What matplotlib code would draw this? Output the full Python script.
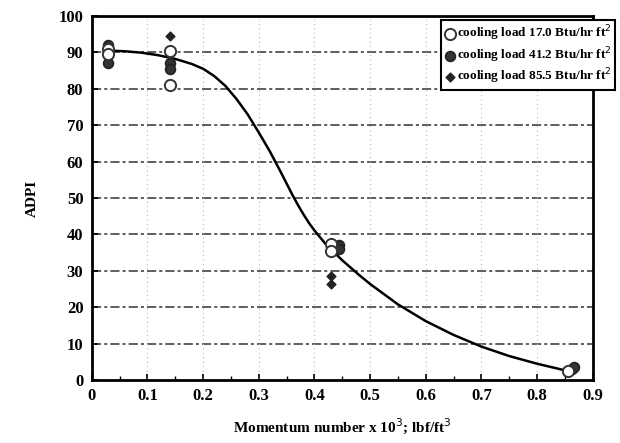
import matplotlib
matplotlib.use("Agg")
import matplotlib.pyplot as plt
import numpy as np

# cooling load 17.0 Btu/hr ft^2 (open circles)
x_17 = [0.03, 0.03, 0.14, 0.14, 0.43, 0.43, 0.855]
y_17 = [91.0, 89.5, 90.5, 81.0, 37.5, 35.5, 2.5]

# cooling load 41.2 Btu/hr ft^2 (filled circles)
x_41 = [0.03, 0.03, 0.14, 0.14, 0.445, 0.445, 0.862, 0.867]
y_41 = [92.0, 87.0, 87.0, 85.5, 37.0, 36.0, 3.0, 3.5]

# cooling load 85.5 Btu/hr ft^2 (small diamonds)
x_85 = [0.14, 0.43, 0.43]
y_85 = [94.5, 28.5, 26.5]

# fitted curve
curve_x = [0.03, 0.06, 0.09, 0.12, 0.15, 0.18, 0.20, 0.22, 0.24, 0.26, 0.28,
           0.30, 0.32, 0.34, 0.35, 0.36, 0.37, 0.38, 0.39, 0.40, 0.42, 0.45,
           0.48, 0.50, 0.55, 0.60, 0.65, 0.70, 0.75, 0.80, 0.855]
curve_y = [90.5, 90.3, 89.9, 89.2, 88.2, 86.8, 85.5, 83.5, 80.8, 77.2, 73.0,
           68.0, 62.8, 57.0, 54.0, 51.0, 48.2, 45.6, 43.2, 41.1, 37.4, 32.9,
           28.9, 26.4, 20.8, 16.2, 12.4, 9.2, 6.6, 4.5, 2.5]

xticks = [0, 0.1, 0.2, 0.3, 0.4, 0.5, 0.6, 0.7, 0.8, 0.9]
xticklabels = ["0", "0.1", "0.2", "0.3", "0.4", "0.5", "0.6", "0.7", "0.8", "0.9"]
yticks = list(range(0, 101, 10))

plt.rcParams['font.family'] = ['Liberation Serif', 'DejaVu Serif']

fig = plt.figure(figsize=(6.2, 4.43), dpi=100)
ax = fig.add_axes([0.148, 0.142, 0.808, 0.822])

# grid: dashed horizontal, faint dotted vertical
for yv in yticks[1:-1]:
    ax.axhline(yv, color='#333333', lw=1.1, ls=(0, (6, 2, 2, 2)), zorder=1)
for xv in xticks[1:-1]:
    ax.axvline(xv, color='#bbbbbb', lw=0.8, ls=(0, (1, 3)), zorder=1)

ax.plot(curve_x, curve_y, color='black', lw=1.8, zorder=2,
        solid_joinstyle='round', solid_capstyle='round')

ax.scatter(x_41, y_41, s=50, marker='o', facecolor='#333333', edgecolor='#222222',
           lw=1.2, zorder=3, label='cooling load 41.2 Btu/hr ft$^2$')
ax.scatter(x_17, y_17, s=65, marker='o', facecolor='white', edgecolor='#333333',
           lw=1.4, zorder=4, label='cooling load 17.0 Btu/hr ft$^2$')
ax.scatter(x_85, y_85, s=20, marker='D', facecolor='#222222', edgecolor='#222222',
           zorder=4, label='cooling load 85.5 Btu/hr ft$^2$')

ax.set_xlim(0, 0.9)
ax.set_ylim(0, 100)
ax.set_xticks(xticks)
ax.set_xticklabels(xticklabels)
ax.set_yticks(yticks)
ax.set_xticks(np.arange(0.05, 0.9, 0.1), minor=True)
ax.tick_params(axis='both', which='major', direction='in', length=4, width=1.2,
               labelsize=12, pad=6)
ax.tick_params(axis='x', which='minor', direction='in', length=3, width=1)
for lbl in ax.get_xticklabels() + ax.get_yticklabels():
    lbl.set_fontweight('bold')

for sp in ax.spines.values():
    sp.set_linewidth(2)

ax.set_ylabel('ADPI', fontsize=11, fontweight='bold', labelpad=14)
ax.set_xlabel('Momentum number x 10$^3$; lbf/ft$^3$', fontsize=11, fontweight='bold',
              labelpad=8)

handles, labels = ax.get_legend_handles_labels()
order = [1, 0, 2]
leg = ax.legend([handles[i] for i in order], [labels[i] for i in order],
                loc='upper right', bbox_to_anchor=(1.045, 0.99), fontsize=9.5,
                frameon=True, fancybox=False, edgecolor='black', framealpha=1,
                handletextpad=0.1, borderpad=0.3, labelspacing=0.15,
                handlelength=0.8, borderaxespad=0)
leg.get_frame().set_linewidth(1.5)
for t in leg.get_texts():
    t.set_fontweight('bold')

fig.savefig('out.png', dpi=100)
